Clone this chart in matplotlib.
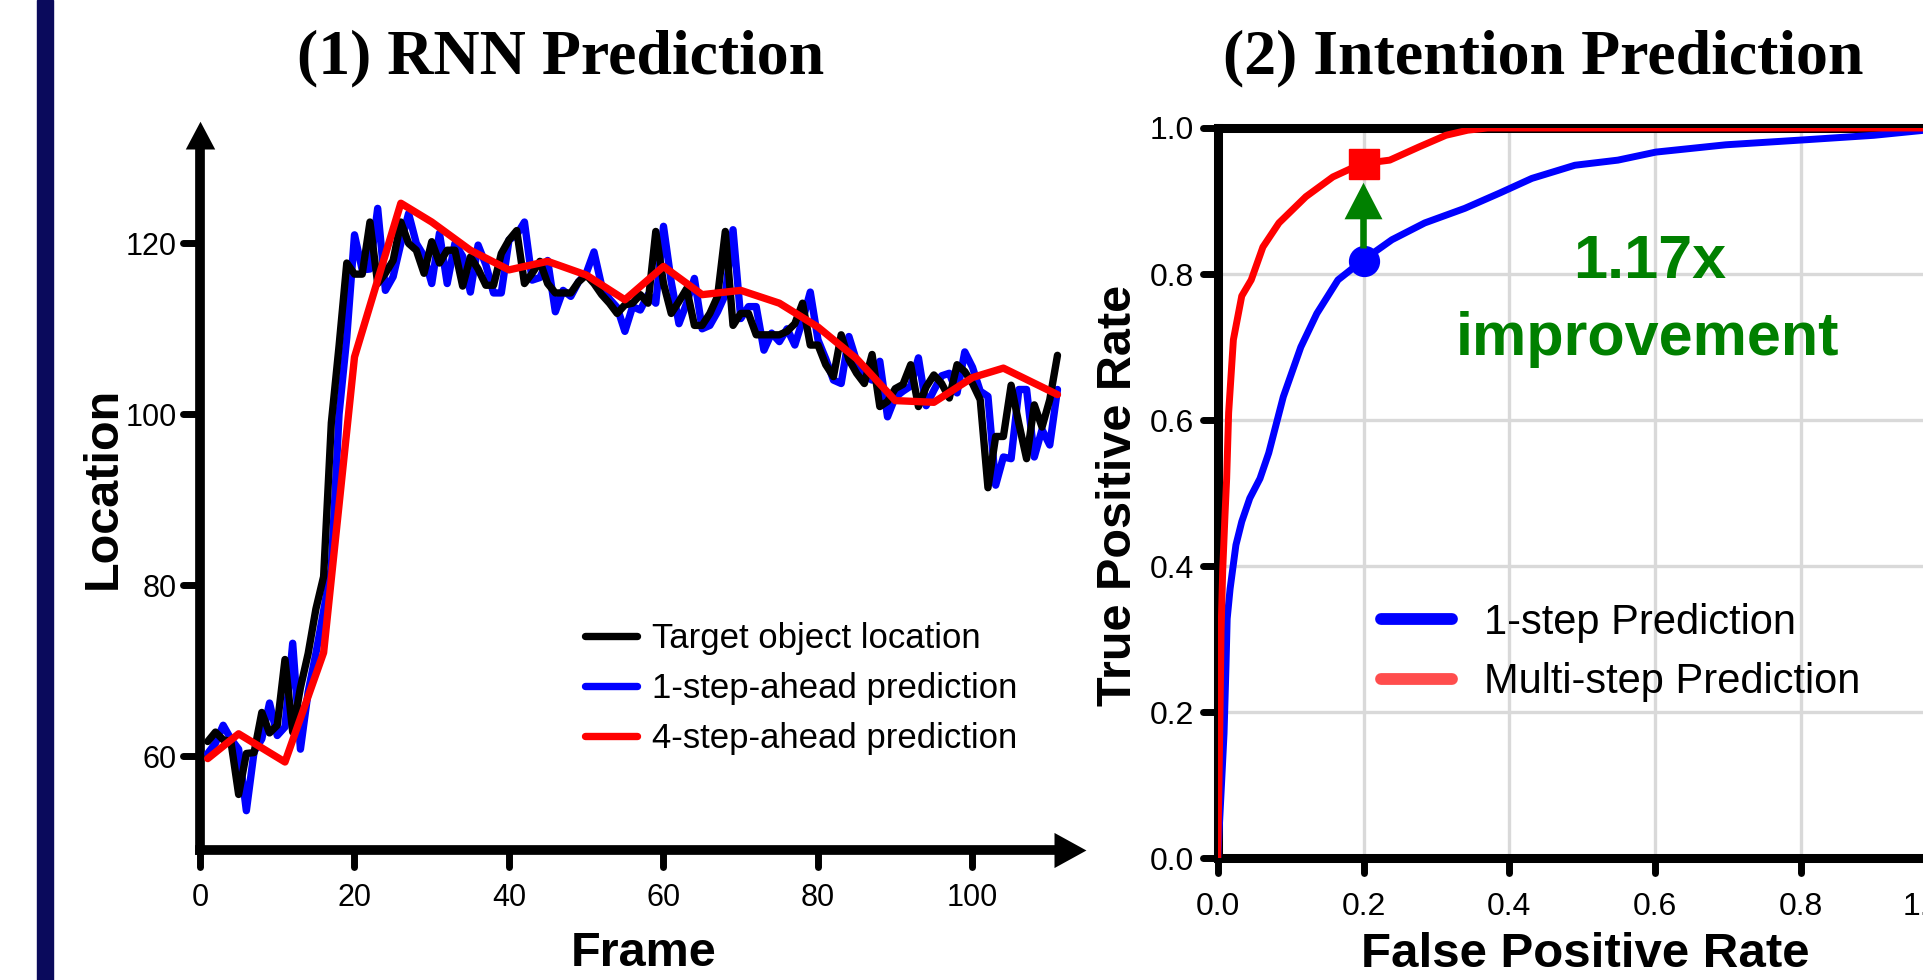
import numpy as np
import matplotlib
matplotlib.use("Agg")
import matplotlib.pyplot as plt
import matplotlib.transforms as mtransforms
from matplotlib.lines import Line2D
from matplotlib.patches import Rectangle
from matplotlib.markers import MarkerStyle, TICKLEFT, TICKDOWN

# ---------------- data: (1) RNN prediction ----------------
frames = list(range(1, 112))
target = [61.7, 62.8, 61.9, 61.7, 55.5, 60.3, 60.4, 65.1, 62.7, 63.6,
          71.3, 62.8, 68.0, 72.0, 77.2, 81.0, 99.0, 108.0, 117.7, 116.4,
          116.4, 122.5, 115.3, 116.5, 118.0, 122.5, 120.0, 119.2, 116.5, 120.2,
          117.7, 119.2, 119.2, 115.0, 118.4, 117.0, 115.1, 115.1, 118.8, 120.4,
          121.5, 115.3, 116.5, 117.9, 115.3, 114.2, 114.2, 114.2, 115.5, 116.3,
          115.3, 114.0, 113.0, 111.8, 112.8, 113.0, 114.0, 113.0, 121.4, 115.3,
          111.8, 113.2, 114.7, 110.4, 110.4, 111.8, 113.8, 121.4, 110.4, 111.8,
          111.8, 109.3, 109.3, 109.3, 109.3, 109.7, 110.6, 113.0, 108.1, 108.1,
          105.8, 104.4, 109.3, 106.4, 104.8, 103.6, 107.0, 100.9, 101.5, 103.0,
          103.5, 105.8, 100.9, 103.2, 104.6, 103.6, 101.9, 105.8, 105.0, 103.6,
          101.7, 91.4, 97.4, 97.4, 103.4, 98.9, 94.8, 101.1, 98.5, 101.7,
          106.9]
one_step = [60.3, 61.5, 63.6, 62.0, 60.8, 53.6, 60.5, 62.0, 66.2, 62.4,
            63.4, 73.2, 60.8, 67.5, 72.0, 77.0, 82.0, 100.0, 109.0, 121.0,
            116.9, 117.0, 124.1, 114.5, 116.1, 120.0, 123.5, 120.0, 118.5, 115.3,
            121.2, 115.3, 120.0, 118.5, 114.3, 119.8, 117.5, 114.2, 114.2, 120.4,
            121.0, 122.5, 115.7, 116.0, 118.0, 112.0, 114.5, 113.8, 115.5, 116.5,
            119.0, 115.0, 113.5, 112.5, 109.7, 112.6, 112.2, 114.0, 113.0, 122.0,
            115.5, 110.6, 113.0, 115.9, 110.0, 110.4, 112.0, 114.0, 121.6, 111.2,
            112.6, 112.6, 107.5, 109.5, 108.5, 110.0, 108.1, 111.0, 114.3, 108.7,
            106.5, 104.0, 103.6, 109.1, 106.2, 104.5, 104.0, 106.2, 99.7, 102.0,
            102.7, 103.3, 106.6, 101.0, 102.8, 104.5, 104.8, 102.5, 107.3, 105.5,
            102.7, 102.1, 91.7, 95.0, 94.8, 102.9, 102.9, 95.0, 98.2, 96.4,
            102.9]
four_step_frames = [1, 5, 11, 16, 20, 26, 30, 35, 40, 45, 50, 55, 60, 65, 70,
                    75, 80, 85, 90, 95, 100, 104, 111]
four_step = [59.7, 62.6, 59.3, 72.1, 106.7, 124.7, 122.5, 119.2, 116.9, 117.9,
             116.3, 113.4, 117.3, 114.0, 114.5, 113.0, 110.2, 106.5, 101.6, 101.4,
             104.3, 105.4, 102.3]
left_xticks = [0, 20, 40, 60, 80, 100]
left_yticks = [60, 80, 100, 120]
left_labels = ["Target object location", "1-step-ahead prediction", "4-step-ahead prediction"]

# ---------------- data: (2) Intention prediction (ROC) ----------------
fpr_1step = [0, 0.0032, 0.0055, 0.0087, 0.0114, 0.013, 0.017, 0.025, 0.033, 0.044,
             0.058, 0.07, 0.09, 0.114, 0.136, 0.165, 0.198, 0.239, 0.284, 0.339,
             0.387, 0.431, 0.49, 0.549, 0.601, 0.697, 0.808, 0.9, 0.97, 1.0]
tpr_1step = [0, 0.062, 0.107, 0.171, 0.264, 0.328, 0.369, 0.429, 0.461, 0.493,
             0.52, 0.555, 0.632, 0.70, 0.746, 0.792, 0.818, 0.847, 0.870, 0.890,
             0.911, 0.931, 0.949, 0.956, 0.967, 0.977, 0.984, 0.99, 0.997, 1.0]
fpr_multi = [0, 0.0018, 0.0032, 0.0046, 0.0069, 0.01, 0.0123, 0.015, 0.0215, 0.033,
             0.046, 0.062, 0.084, 0.121, 0.158, 0.197, 0.236, 0.276, 0.313, 0.343,
             0.37, 1.0]
tpr_multi = [0, 0.107, 0.2, 0.31, 0.395, 0.47, 0.52, 0.61, 0.71, 0.77,
             0.792, 0.837, 0.870, 0.906, 0.933, 0.951, 0.956, 0.974, 0.99, 0.997,
             1.0, 1.0]
op_fpr = 0.2
op_tpr_1step = 0.818
op_tpr_multi = 0.951
right_ticks = [0.0, 0.2, 0.4, 0.6, 0.8, 1.0]
right_ticklabels = ["0.0", "0.2", "0.4", "0.6", "0.8", "1.0"]
right_labels = ["1-step Prediction", "Multi-step Prediction"]

# ---------------- figure ----------------
plt.rcParams['font.family'] = ['Liberation Sans', 'DejaVu Sans']
W, H = 1924, 980
fig = plt.figure(figsize=(W / 100, H / 100), dpi=100)


def fx(px):
    return px / W


def fy(py):
    return 1 - py / H


def round_ticks(axis, mk):
    try:
        for t in axis.get_major_ticks():
            t.tick1line.set_marker(MarkerStyle(mk, capstyle='round'))
    except Exception:
        pass


# navy bar at the left edge
fig.patches.append(Rectangle((fx(37), 0), 16 / W, 1, transform=fig.transFigure,
                             color='#0a0a5c', zorder=0))

# ---- left chart ----
xmax_left = 110.6
lx0, lx1 = 200.0, 200.0 + xmax_left * 7.725
ly_top, ly_bot = 149.4, 850.0
ax1 = fig.add_axes([fx(lx0), fy(ly_bot), (lx1 - lx0) / W, (ly_bot - ly_top) / H])
ax1.set_xlim(0, xmax_left)
ax1.set_ylim(49, 131)
line_kw = dict(lw=5.3, solid_joinstyle='round', solid_capstyle='round', clip_on=False)
l_blue, = ax1.plot(frames, one_step, color='#0000ff', zorder=3, **line_kw)
l_black, = ax1.plot(frames, target, color='#000000', zorder=4, **line_kw)
l_red, = ax1.plot(four_step_frames, four_step, color='#ff0000', zorder=5, **line_kw)
for s in ['top', 'right']:
    ax1.spines[s].set_visible(False)
for s in ['left', 'bottom']:
    ax1.spines[s].set_linewidth(7)
ax1.set_xticks(left_xticks)
ax1.set_yticks(left_yticks)
ax1.tick_params(axis='both', direction='out', length=12, width=5, labelsize=22)
ax1.tick_params(axis='x', pad=12)
ax1.tick_params(axis='y', pad=5)
round_ticks(ax1.xaxis, TICKDOWN)
round_ticks(ax1.yaxis, TICKLEFT)
# arrow heads on the axes
up_tri = MarkerStyle([(-0.53, 0), (0.53, 0), (0, 1)])
right_tri = MarkerStyle([(0, -0.55), (1, 0), (0, 0.55)])
ax1.plot([0], [1], marker=up_tri, ms=40, color='k', mew=0, transform=ax1.transAxes, clip_on=False)
ax1.plot([1], [0], marker=right_tri, ms=46, color='k', mew=0, transform=ax1.transAxes, clip_on=False)
ax1.legend([l_black, l_blue, l_red], left_labels, loc='upper left',
           bbox_to_anchor=(fx(584.5), fy(622)), bbox_transform=fig.transFigure,
           frameon=False, fontsize=25, handlelength=1.5, handletextpad=0.45,
           labelspacing=0.49, borderpad=0, borderaxespad=0)

fig.text(fx(561), fy(73), "(1) RNN Prediction", ha='center', va='baseline',
         fontsize=46, fontweight='bold', family=['Liberation Serif', 'DejaVu Serif'])
fig.text(fx(115.7), fy(487.5), "Location", rotation=90, rotation_mode='anchor',
         ha='center', va='baseline', fontsize=35, fontweight='bold')
fig.text(fx(644), fy(966), "Frame", ha='center', va='baseline', fontsize=35, fontweight='bold')

# ---- right chart ----
rx0, ry0 = 1217.7, 858.3
ax2 = fig.add_axes([fx(rx0), fy(ry0), 729 / W, 730.3 / H])
ax2.set_xlim(0, 1)
ax2.set_ylim(0, 1)
ax2.set_axisbelow(True)
ax2.grid(True, color='#d9d9d9', lw=2.4)
for s in ax2.spines.values():
    s.set_linewidth(6.5)
ax2.plot(fpr_1step, tpr_1step, color='#0000ff', lw=5, zorder=3,
         solid_joinstyle='round', solid_capstyle='round')
ax2.plot(fpr_multi, tpr_multi, color='#ff0000', lw=5, zorder=3.2,
         solid_joinstyle='round', solid_capstyle='round')
ax2.plot([op_fpr], [op_tpr_1step], 'o', color='#0000ff', ms=21.5, zorder=4)
ax2.plot([op_fpr], [op_tpr_multi], 's', color='#ff0000', ms=22, zorder=4)
ax2.arrow(op_fpr, op_tpr_1step + 0.017, 0, 0.09, width=0.009, head_width=0.052,
          head_length=0.05, length_includes_head=True, color='#008000', zorder=4, lw=0)
ax2.text(0.593, 0.795, "1.17x", ha='center', va='baseline', fontsize=44,
         fontweight='bold', color='#008000')
ax2.text(0.590, 0.689, "improvement", ha='center', va='baseline', fontsize=44,
         fontweight='bold', color='#008000')
ax2.set_xticks(right_ticks)
ax2.set_xticklabels(right_ticklabels)
ax2.set_yticks(right_ticks)
ax2.set_yticklabels(right_ticklabels)
ax2.tick_params(axis='both', direction='out', length=11, width=5, labelsize=23)
ax2.tick_params(axis='x', pad=13)
ax2.tick_params(axis='y', pad=6)
round_ticks(ax2.xaxis, TICKDOWN)
round_ticks(ax2.yaxis, TICKLEFT)
# the last x label sits partly inside the right edge, as in the original crop
last_lbl = ax2.get_xticklabels()[-1]
last_lbl.set_transform(last_lbl.get_transform() +
                       mtransforms.ScaledTranslation(-0.22, 0, fig.dpi_scale_trans))
h1 = Line2D([], [], color='#0000ff', lw=8.5, solid_capstyle='round')
h2 = Line2D([], [], color='#ff4d4d', lw=8.5, solid_capstyle='round')
ax2.legend([h1, h2], right_labels, loc='upper left',
           bbox_to_anchor=(fx(1381), fy(603)), bbox_transform=fig.transFigure,
           frameon=False, fontsize=30, handlelength=1.7, handletextpad=0.78,
           labelspacing=0.46, borderpad=0, borderaxespad=0)

fig.text(fx(1543), fy(73), "(2) Intention Prediction", ha='center', va='baseline',
         fontsize=46, fontweight='bold', family=['Liberation Serif', 'DejaVu Serif'])
fig.text(fx(1131), fy(495), "True Positive Rate", rotation=90, rotation_mode='anchor',
         ha='center', va='baseline', fontsize=35, fontweight='bold')
fig.text(fx(1585), fy(967), "False Positive Rate", ha='center', va='baseline',
         fontsize=35.5, fontweight='bold')

fig.savefig("out.png", dpi=100)
